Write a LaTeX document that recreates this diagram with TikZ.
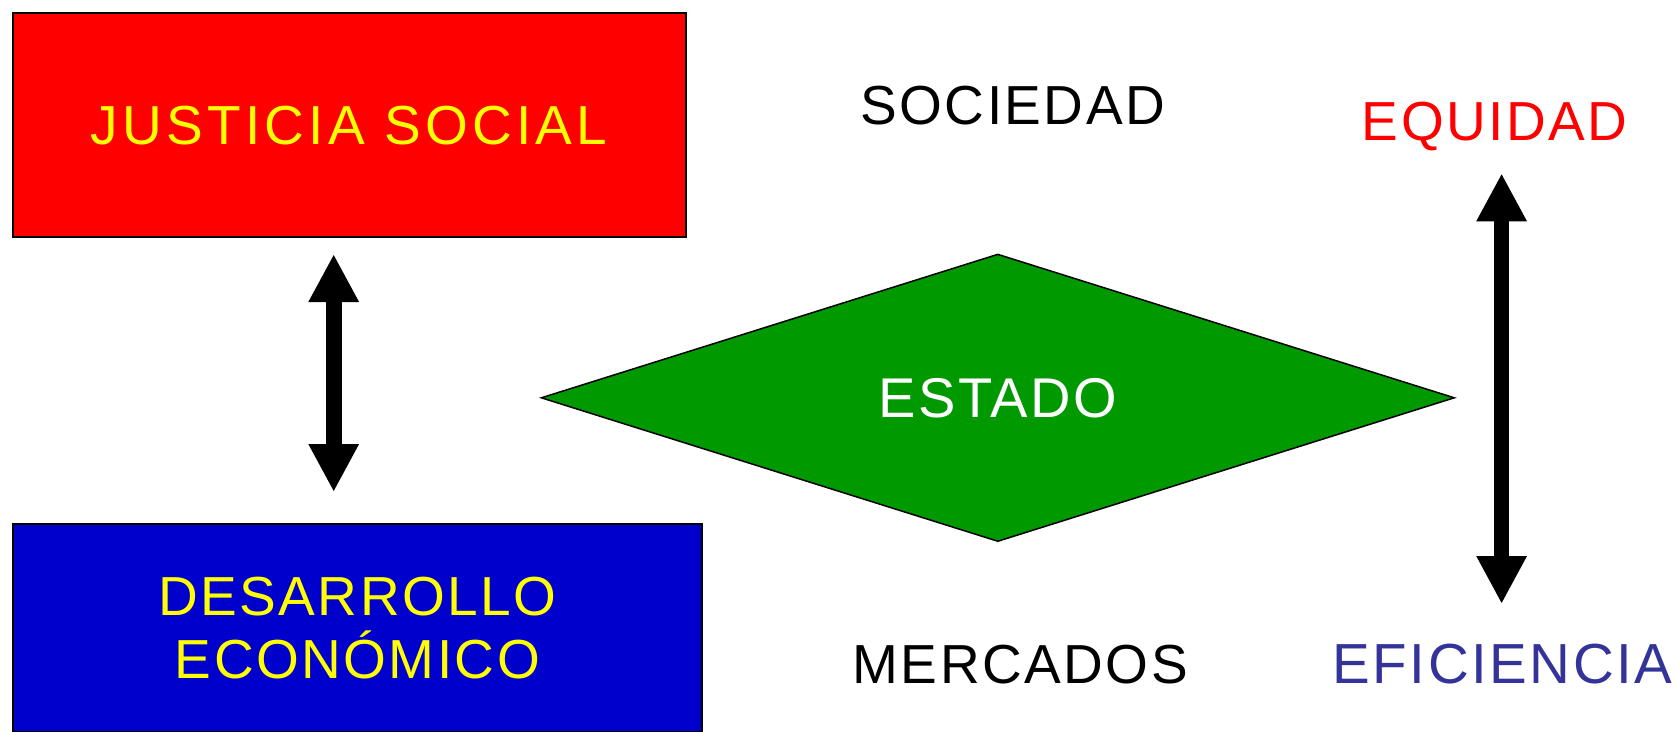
\documentclass[tikz,border=0pt]{standalone}
\usepackage{fontspec}
\setmainfont{Liberation Sans}[LetterSpace=4.5]
\newfontfamily\jsfont{Liberation Sans}[LetterSpace=7.7]
\usetikzlibrary{arrows.meta,shapes.geometric}
\definecolor{boxred}{HTML}{FF0000}
\definecolor{boxblue}{HTML}{0000CC}
\definecolor{diagreen}{HTML}{009900}
\definecolor{txtyellow}{HTML}{FFFF00}
\definecolor{effblue}{HTML}{333399}
\tikzset{
  bigfont/.style={font=\fontsize{55}{63}\selectfont},
  colbox/.style={draw=black, line width=2pt, rectangle, inner sep=0pt, text=txtyellow, bigfont, align=center},
  freetext/.style={anchor=base, inner sep=0pt, bigfont},
  dblarrow/.style={line width=16pt, {Triangle[length=48pt,width=47pt]}-{Triangle[length=48pt,width=47pt]}, shorten <=0pt, shorten >=0pt},
}
\begin{document}
\begin{tikzpicture}[x=1pt,y=-1pt]
\useasboundingbox (0,0) rectangle (1677,731);
\clip (0,0) rectangle (1677,731);
% boxes
\node[colbox, fill=boxred, minimum width=672.8pt, minimum height=224.6pt, font=\jsfont\fontsize{55}{63}\selectfont] (justicia) at (349.2,125.1) {JUSTICIA SOCIAL};
\node[colbox, fill=boxblue, minimum width=689.2pt, minimum height=208pt] (desarrollo) at (357.4,628) {DESARROLLO\\ECONÓMICO};
% diamond
\node[diamond, draw=black, line width=1.5pt, fill=diagreen, aspect=3.18, minimum width=913.5pt, minimum height=287.5pt, inner sep=0pt, text=white, font=\fontsize{56}{63}\selectfont] (estado) at (997.8,397.8) {ESTADO};
% free labels
\node[freetext] (sociedad) at (1012.8,124) {SOCIEDAD};
\node[freetext, text=boxred] (equidad) at (1494.6,140) {EQUIDAD};
\node[freetext] (mercados) at (1020.3,683.4) {MERCADOS};
\node[freetext, text=effblue, font=\fontsize{56.5}{63}\selectfont] (eficiencia) at (1502.6,683.4) {EFICIENCIA};
% arrows
\coordinate (lt) at (333.7,254);
\coordinate (lb) at (333.7,492);
\coordinate (rt) at (1501.6,173.3);
\coordinate (rb) at (1501.6,604);
\draw[dblarrow] (lt) -- (lb);
\draw[dblarrow, line width=15pt] (rt) -- (rb);
\end{tikzpicture}
\end{document}
